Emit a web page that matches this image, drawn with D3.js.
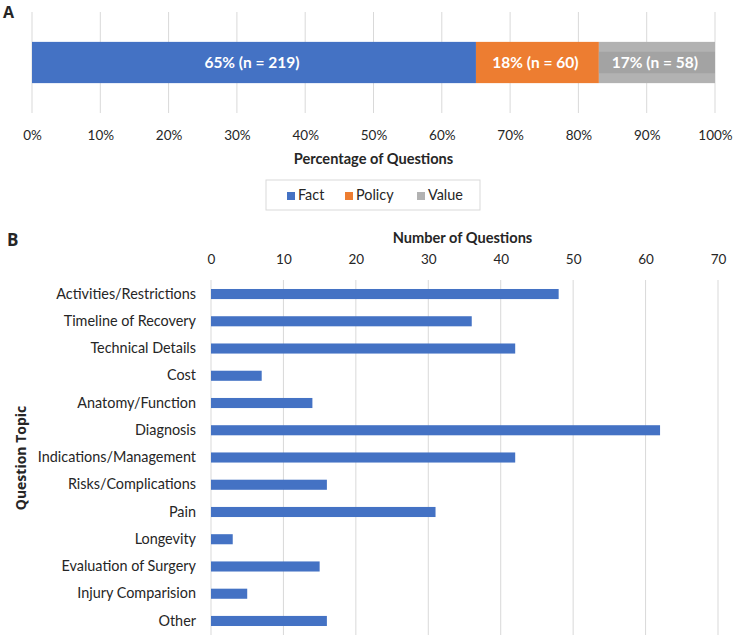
<!DOCTYPE html>
<html>
<head>
<meta charset="utf-8">
<script src="https://cdn.jsdelivr.net/npm/d3@7"></script>
<style>
  body { margin: 0; background: #fff; }
  svg text { font-family: Lato, "Open Sans", sans-serif; fill: #262626; }
</style>
</head>
<body>
<div id="chart"></div>
<script>
// Panel A: question type shares
var typeNames = ["Fact", "Policy", "Value"];
var typeShares = [0.65, 0.18, 0.17];
var typeLabels = ["65% (n = 219)", "18% (n = 60)", "17% (n = 58)"];
var typeColors = ["#4472C4", "#ED7D31", "#B2B2B2"];
var labelFills = [null, null, "#A3A3A3"];
var pctTicks = [0, 0.1, 0.2, 0.3, 0.4, 0.5, 0.6, 0.7, 0.8, 0.9, 1];

// Panel B: question topics
var topics = ["Activities/Restrictions", "Timeline of Recovery", "Technical Details", "Cost",
    "Anatomy/Function", "Diagnosis", "Indications/Management", "Risks/Complications", "Pain",
    "Longevity", "Evaluation of Surgery", "Injury Comparision", "Other"];
var topicCounts = [48, 36, 42, 7, 14, 62, 42, 16, 31, 3, 15, 5, 16];
var countTicks = [0, 10, 20, 30, 40, 50, 60, 70];

var svg = d3.select("#chart").append("svg")
    .attr("width", 744)
    .attr("height", 639);

// ---------- Panel A ----------
var xA = d3.scaleLinear().domain([0, 1]).range([32, 715]);
var yA = d3.scaleBand().domain(["all"]).range([12, 113]).padding(0.42);

svg.append("text").attr("x", 3).attr("y", 18)
    .style("font-family", "'Open Sans', sans-serif")
    .style("font-size", "16px").style("font-weight", "bold").text("A");

svg.append("g").selectAll("line")
    .data(pctTicks)
    .enter().append("line")
    .attr("x1", function(d) { return xA(d); })
    .attr("x2", function(d) { return xA(d); })
    .attr("y1", 12).attr("y2", 113)
    .attr("stroke", "#d9d9d9");

var stack = [];
var acc = 0;
typeShares.forEach(function(v, i) {
    stack.push({start: acc, end: acc + v, label: typeLabels[i], color: typeColors[i], labelFill: labelFills[i]});
    acc += v;
});

var segs = svg.append("g").selectAll("g.seg")
    .data(stack)
    .enter().append("g").attr("class", "seg");

segs.append("rect")
    .attr("x", function(d) { return xA(d.start); })
    .attr("width", function(d) { return xA(d.end) - xA(d.start); })
    .attr("y", yA("all"))
    .attr("height", yA.bandwidth())
    .attr("fill", function(d) { return d.color; });

// label box (only visible where its fill differs from the bar)
segs.filter(function(d) { return d.labelFill; })
    .append("rect")
    .attr("x", function(d) { return xA(d.start); })
    .attr("width", function(d) { return xA(d.end) - xA(d.start); })
    .attr("y", yA("all") + yA.bandwidth() * 0.24)
    .attr("height", yA.bandwidth() * 0.52)
    .attr("fill", function(d) { return d.labelFill; });

segs.append("text")
    .attr("x", function(d) { return (xA(d.start) + xA(d.end)) / 2 - 2; })
    .attr("y", yA("all") + yA.bandwidth() / 2 + 5.5)
    .attr("text-anchor", "middle")
    .style("fill", "#fff")
    .style("font-size", "15.5px")
    .style("font-weight", "bold")
    .text(function(d) { return d.label; });

var axA = svg.append("g")
    .attr("transform", "translate(0,121)")
    .call(d3.axisBottom(xA).tickValues(pctTicks).tickSize(0).tickPadding(9).tickFormat(d3.format(".0%")));
axA.select(".domain").remove();
axA.selectAll("text").style("font-size", "13.5px").attr("fill", "#262626")
    .style("font-family", "Lato, 'Open Sans', sans-serif");

svg.append("text")
    .attr("x", (xA(0) + xA(1)) / 2).attr("y", 164)
    .attr("text-anchor", "middle")
    .style("font-size", "14.6px").style("font-weight", "bold")
    .text("Percentage of Questions");

// legend
var legend = svg.append("g");
legend.append("rect")
    .attr("x", 266).attr("y", 180).attr("width", 214).attr("height", 30)
    .attr("fill", "none").attr("stroke", "#d9d9d9");
var legendX = [287, 345, 417];
var items = legend.selectAll("g.item")
    .data(typeNames)
    .enter().append("g").attr("class", "item")
    .attr("transform", function(d, i) { return "translate(" + legendX[i] + ",192)"; });
items.append("rect")
    .attr("width", 8).attr("height", 8)
    .attr("fill", function(d, i) { return typeColors[i]; });
items.append("text")
    .attr("x", 11).attr("y", 8)
    .style("font-size", "14.4px")
    .text(function(d) { return d; });

// ---------- Panel B ----------
var xB = d3.scaleLinear().domain([0, 70]).range([211, 718]);
var yB = d3.scaleBand().domain(topics).range([280, 635]).paddingInner(0.63).paddingOuter(0.33);

svg.append("text").attr("x", 7).attr("y", 246)
    .style("font-family", "'Open Sans', sans-serif")
    .style("font-size", "17px").style("font-weight", "bold").text("B");

svg.append("text")
    .attr("x", (xB(0) + xB(70)) / 2 - 2).attr("y", 243)
    .attr("text-anchor", "middle")
    .style("font-size", "14.6px").style("font-weight", "bold")
    .text("Number of Questions");

svg.append("g").selectAll("line")
    .data(countTicks)
    .enter().append("line")
    .attr("x1", function(d) { return xB(d); })
    .attr("x2", function(d) { return xB(d); })
    .attr("y1", 280).attr("y2", 635)
    .attr("stroke", "#d9d9d9");

var axB = svg.append("g")
    .attr("transform", "translate(0,269)")
    .call(d3.axisTop(xB).tickValues(countTicks).tickSize(0).tickPadding(5));
axB.select(".domain").remove();
axB.selectAll("text").style("font-size", "13.5px").attr("fill", "#262626")
    .style("font-family", "Lato, 'Open Sans', sans-serif");

svg.append("g").selectAll("rect")
    .data(topics)
    .enter().append("rect")
    .attr("x", xB(0))
    .attr("y", function(d) { return yB(d); })
    .attr("width", function(d, i) { return xB(topicCounts[i]) - xB(0); })
    .attr("height", yB.bandwidth())
    .attr("fill", "#4472C4");

var axYB = svg.append("g")
    .attr("transform", "translate(" + (xB(0) - 15) + ",0)")
    .call(d3.axisLeft(yB).tickSize(0).tickPadding(0));
axYB.select(".domain").remove();
axYB.selectAll("text").style("font-size", "14.4px").attr("fill", "#262626")
    .style("font-family", "Lato, 'Open Sans', sans-serif");

svg.append("text")
    .attr("transform", "translate(26,458) rotate(-90)")
    .attr("text-anchor", "middle")
    .style("font-family", "'Open Sans', sans-serif")
    .style("font-size", "14px").style("font-weight", "bold")
    .text("Question Topic");
</script>
</body>
</html>
